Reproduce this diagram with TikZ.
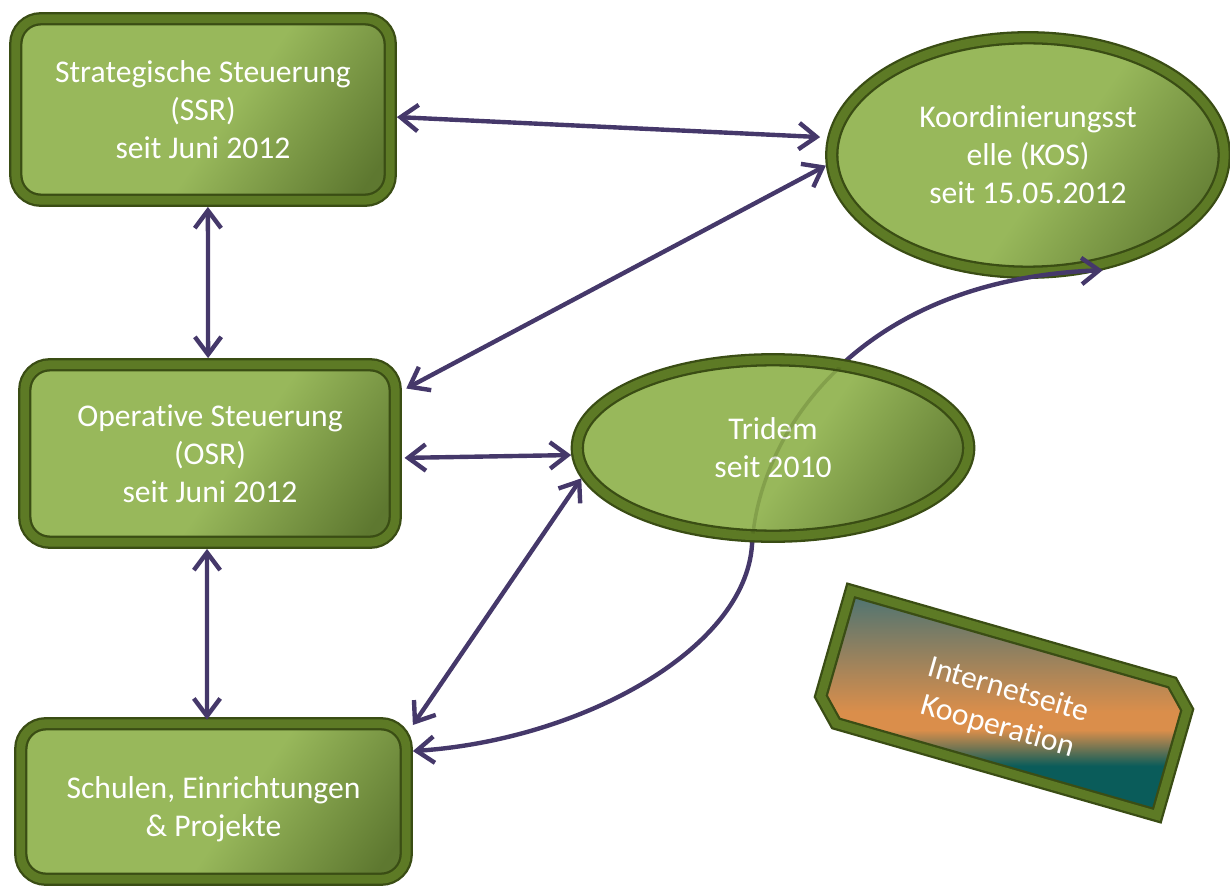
\documentclass[tikz,border=0pt]{standalone}
\usepackage{fontspec}
\setmainfont{Carlito}[Ligatures={NoCommon}]
\usetikzlibrary{arrows.meta,shapes.geometric,shadows,calc}
\definecolor{gl}{HTML}{98B85B}
\definecolor{gd}{HTML}{5E7830}
\definecolor{fdark}{HTML}{3A4D14}
\definecolor{fmid}{HTML}{5D7A25}
\definecolor{arrc}{HTML}{45386A}
\definecolor{tgray}{HTML}{4E7472}
\definecolor{torange}{HTML}{DA8E4B}
\definecolor{tdark}{HTML}{0A5C5A}
\pgfdeclarehorizontalshading{greensh}{100bp}{color(0bp)=(gl); color(54bp)=(gl); color(80bp)=(gd); color(100bp)=(gd)}
\pgfdeclareverticalshading{inetsh}{100bp}{color(0bp)=(tdark); color(36bp)=(tdark); color(44bp)=(torange); color(48bp)=(torange); color(74bp)=(tgray); color(100bp)=(tgray)}
\tikzset{
  frameline/.style={draw=fdark, double=fmid, double distance=5pt, line width=1.3pt,
    drop shadow={opacity=0.3, shadow xshift=2pt, shadow yshift=-2.5pt}},
  gframe/.style={frameline, outer sep=3.8pt, inner sep=0pt, text=white, align=center,
    font=\fontsize{18pt}{21.6pt}\selectfont},
  gbox/.style={gframe, rectangle, rounded corners=0.5cm, shading=greensh, shading angle=-35},
  gell/.style={gframe, ellipse, shading=greensh, shading angle=-35},
  conn/.style={draw=arrc, line width=2.5pt,
    {Straight Barb[length=10pt,width=15pt]}-{Straight Barb[length=10pt,width=15pt]}}
}
\begin{document}
\begin{tikzpicture}[x=0.02cm, y=-0.02cm]
\useasboundingbox (0,0) rectangle (1230,888);

\node[gbox, minimum width=7.49cm, minimum height=3.63cm] (ssr) at (203,109.5)
  {Strategische Steuerung\\(SSR)\\seit Juni 2012};
\node[gbox, minimum width=7.41cm, minimum height=3.55cm] (osr) at (210,453.5)
  {Operative Steuerung\\(OSR)\\seit Juni 2012};
\node[gbox, minimum width=7.71cm, minimum height=3.11cm] (sch) at (213.5,801.5)
  {\rule{0pt}{21pt}Schulen, Einrichtungen\\\& Projekte};
\node[gell, minimum width=7.85cm, minimum height=4.69cm] (kos) at (1028,155)
  {Koordinierungsst\\elle (KOS)\\seit 15.05.2012};

% Internet box: snipped-corner frame, rotated
\begin{scope}[shift={(1004,703)}, rotate=-16]
  \path[frameline, shading=inetsh]
    (-178,-66) -- (156,-66) -- (178,-44) -- (178,66) -- (-156,66) -- (-178,44) -- cycle;
\end{scope}
\node[text=white, align=center, font=\fontsize{18pt}{21.6pt}\selectfont, rotate=-16,
  inner sep=0pt] (inet) at (1003,709) {Internetseite\\Kooperation};

% curved connector (passes behind Tridem)
\coordinate (cmid) at (752,545);
\draw[conn] ([yshift=28.7pt]sch.east) .. controls (580,740) and (745,650) .. (cmid)
  .. controls (758,440) and (850,280) .. (kos.-57);

\node[gell, minimum width=7.83cm, minimum height=3.53cm] (tri) at (773,448)
  {Tridem\\seit 2010};

\begin{scope}
  \clip (773,448) ellipse [x radius=3.8cm, y radius=1.72cm];
  \draw[fdark, opacity=0.22, line width=2pt] (cmid) .. controls (758,440) and (850,280) .. (kos.-57);
\end{scope}

\draw[conn, shorten >=4pt] ([yshift=-4.3pt]ssr.east) -- (kos.175);
\draw[conn] ([xshift=2.8pt]ssr.south) -- ([xshift=-1.1pt]osr.north);
\draw[conn] ([xshift=2.5pt,yshift=37pt]osr.east) -- (kos.183);
\draw[conn] ([xshift=1.5pt,yshift=-2.5pt]osr.east) -- (tri.182);
\draw[conn] ([xshift=-1.7pt]osr.south) -- ([xshift=-3.7pt,yshift=-1.5pt]sch.north);
\draw[conn] ([yshift=-4.5pt]sch.north east) -- (tri.189);
\end{tikzpicture}
\end{document}
